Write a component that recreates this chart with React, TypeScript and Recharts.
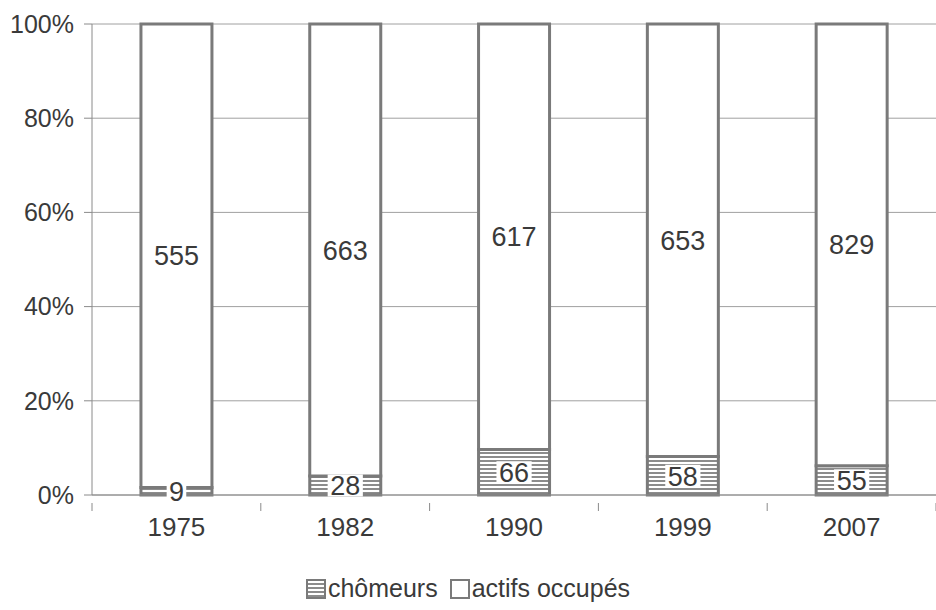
import React from "react"
import {BarChart, Bar, CartesianGrid, XAxis, YAxis, Legend, LabelList} from 'recharts';

const years = ['1975', '1982', '1990', '1999', '2007'];
const chomeurs = [9, 28, 66, 58, 55];
const actifs = [555, 663, 617, 653, 829];
const yTicks = [0, 0.2, 0.4, 0.6, 0.8, 1];

const data = years.map((year, i) => ({year, chomeurs: chomeurs[i], actifs: actifs[i]}));

const FONT = '"Liberation Sans", Arial, sans-serif';
const TEXT = '#3a3a3a';
const LINE = '#8a8a8a';
const BORDER = '#7a7a7a';
const PLOT_LEFT = 92;
const PLOT_RIGHT = 936;
const BAND = (PLOT_RIGHT - PLOT_LEFT) / years.length;

const YearTick = (props: any) => {
    const {x, y, payload, index} = props;
    const last = index === years.length - 1;
    return (
        <g>
            <line x1={x - BAND / 2} x2={x - BAND / 2} y1={y} y2={y + 8} stroke={LINE} />
            {last && <line x1={x + BAND / 2} x2={x + BAND / 2} y1={y} y2={y + 8} stroke={LINE} />}
            <text x={x} y={y + 33} textAnchor="middle" fontSize={26} fill={TEXT} fontFamily={FONT}>
                {payload.value}
            </text>
        </g>
    )
};

const ChomeursLabel = (props: any) => {
    const {x, y, width, height, value} = props;
    const cx = x + width / 2;
    const cy = y + height / 2;
    const w = String(value).length * 15.6 + 4;
    return (
        <g>
            <rect x={cx - w / 2} y={cy - 11} width={w} height={22} fill="#fff" />
            <text x={cx} y={cy + 10} textAnchor="middle" fontSize={27} fill={TEXT} fontFamily={FONT}>{value}</text>
        </g>
    )
};

const Swatch = ({hatch}: {hatch: boolean}) => (
    <svg width={20} height={20} style={{verticalAlign: '-2px', marginRight: 2}}>
        <rect x={1} y={1} width={18} height={18} fill={hatch ? 'url(#hatch)' : '#fff'} stroke={BORDER} strokeWidth={2} />
    </svg>
);

const LegendContent = () => (
    <div style={{textAlign: 'center', fontFamily: FONT, fontSize: 25, color: TEXT, paddingTop: 4}}>
        <span style={{marginRight: 12}}><Swatch hatch={true} />chômeurs</span>
        <span><Swatch hatch={false} />actifs occupés</span>
    </div>
);

const App = () => {
    return (
        <div style={{position: 'absolute', left: 0, top: 0}}>
            <BarChart width={936} height={610} data={data} stackOffset="expand" barCategoryGap="29%"
                      margin={{top: 24, right: 0, left: 0, bottom: 5}}>
                <defs>
                    <pattern id="hatch" width={4} height={4} patternUnits="userSpaceOnUse">
                        <rect width={4} height={4} fill="#fff" />
                        <rect width={4} height={2} fill="#8c8c8c" />
                    </pattern>
                </defs>
                <CartesianGrid vertical={false} stroke="#a0a0a0" />
                <XAxis dataKey="year" height={75} axisLine={{stroke: LINE}} tickLine={false} tick={<YearTick />} interval={0} />
                <YAxis width={PLOT_LEFT} domain={[0, 1]} ticks={yTicks} tickFormatter={(v: number) => `${Math.round(v * 100)}%`}
                       axisLine={{stroke: LINE}} tickLine={{stroke: LINE}} tickSize={8} tickMargin={10}
                       tick={{fontSize: 25, fill: TEXT, fontFamily: FONT}} />
                <Legend verticalAlign="bottom" height={35} content={<LegendContent />} wrapperStyle={{width: 936, left: 0}} />
                <Bar dataKey="chomeurs" name="chômeurs" stackId="a" fill="url(#hatch)" stroke={BORDER} strokeWidth={3} isAnimationActive={false}>
                    <LabelList dataKey="chomeurs" content={<ChomeursLabel />} />
                </Bar>
                <Bar dataKey="actifs" name="actifs occupés" stackId="a" fill="#fff" stroke={BORDER} strokeWidth={3} isAnimationActive={false}>
                    <LabelList dataKey="actifs" position="center" fontSize={27} fill={TEXT} fontFamily={FONT} />
                </Bar>
            </BarChart>
        </div>
    )
};

export default App;
